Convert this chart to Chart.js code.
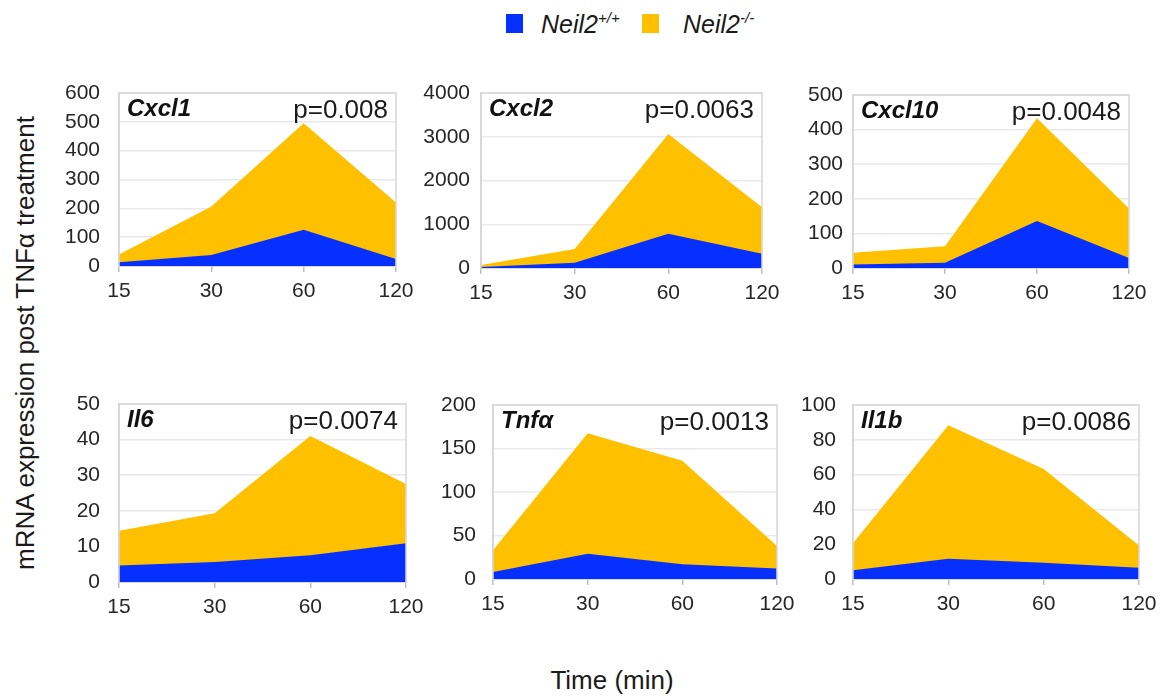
<!DOCTYPE html>
<html><head><meta charset="utf-8">
<script src="https://cdn.jsdelivr.net/npm/chart.js@4.4.1/dist/chart.umd.min.js"></script>
<style>
body{margin:0;background:#fff;width:1162px;height:696px;overflow:hidden;position:relative;font-family:"Liberation Sans",Arial,sans-serif;color:#1a1a1a;}
canvas{position:absolute;}
.sq{position:absolute;width:17px;height:19px;}
.lgt{position:absolute;font-style:italic;font-size:25px;line-height:25px;white-space:nowrap;}
.lgt sup{font-size:15px;position:relative;top:-2px;vertical-align:top;line-height:15px;}
#ytitle{position:absolute;left:25px;top:343px;transform:translate(-50%,-50%) rotate(-90deg);font-size:26px;white-space:nowrap;}
#xtitle{position:absolute;left:612px;top:680px;transform:translate(-50%,-50%);font-size:26px;white-space:nowrap;}
</style></head><body>
<div class="sq" style="left:506px;top:14px;background:#0530FF"></div>
<div class="lgt" style="left:541px;top:12px">Neil2<sup>+/+</sup></div>
<div class="sq" style="left:642px;top:14px;background:#FFC000"></div>
<div class="lgt" style="left:683px;top:12px">Neil2<sup>-/-</sup></div>
<div id="ytitle">mRNA expression post TNFα treatment</div>
<div id="xtitle">Time (min)</div>
<script>
// ---- data ----
const timePoints = ['15', '30', '60', '120'];
const genes = ['Cxcl1', 'Cxcl2', 'Cxcl10', 'Il6', 'Tnfα', 'Il1b'];
const pValues = ['p=0.008', 'p=0.0063', 'p=0.0048', 'p=0.0074', 'p=0.0013', 'p=0.0086'];
const yMax = [600, 4000, 500, 50, 200, 100];
const yStep = [100, 1000, 100, 10, 50, 20];
const seriesNames = ['Neil2+/+', 'Neil2-/-'];
const cxcl1WT = [13, 38, 126, 24];
const cxcl1KO = [40, 206, 495, 220];
const cxcl2WT = [23, 122, 785, 327];
const cxcl2KO = [70, 434, 3063, 1387];
const cxcl10WT = [10, 15, 136, 29];
const cxcl10KO = [44, 63, 433, 172];
const il6WT = [4.6, 5.6, 7.5, 10.9];
const il6KO = [14.4, 19.3, 41, 27.5];
const tnfaWT = [8, 29, 17, 12];
const tnfaKO = [33, 167.5, 136, 38];
const il1bWT = [5, 11.7, 9.4, 6.5];
const il1bKO = [20.5, 88.3, 63.2, 19.2];
const wtSeries = [cxcl1WT, cxcl2WT, cxcl10WT, il6WT, tnfaWT, il1bWT];
const koSeries = [cxcl1KO, cxcl2KO, cxcl10KO, il6KO, tnfaKO, il1bKO];

// ---- layout (chart areas in page px) ----
const panels = [
  {L:119, R:396, T:93, B:266, pad:19},
  {L:481, R:762, T:93, B:268, pad:11},
  {L:853, R:1129, T:95, B:268, pad:10},
  {L:119, R:406, T:404, B:582, pad:19},
  {L:493, R:777, T:405, B:579, pad:17},
  {L:853, R:1139, T:405, B:579, pad:17}
];
const W = 75, PR = 28, H = 44;
const FONT = '"Liberation Sans", Arial, sans-serif';

const decor = {
  id: 'decor',
  afterDatasetsDraw(chart, args, opts) {
    const {ctx, chartArea: a} = chart;
    ctx.save();
    ctx.strokeStyle = '#d6d6d6';
    ctx.lineWidth = 1.5;
    ctx.beginPath();
    ctx.moveTo(a.left, a.bottom); ctx.lineTo(a.left, a.top);
    ctx.lineTo(a.right, a.top); ctx.lineTo(a.right, a.bottom);
    ctx.stroke();
    ctx.fillStyle = '#111';
    ctx.textBaseline = 'alphabetic';
    ctx.font = 'italic bold 24px ' + FONT;
    ctx.textAlign = 'left';
    ctx.fillText(opts.gene, a.left + 8, a.top + 23);
    ctx.font = '26px ' + FONT;
    ctx.textAlign = 'right';
    ctx.fillStyle = '#1a1a1a';
    ctx.fillText(opts.p, a.right - 8, a.top + 25);
    ctx.restore();
  }
};

panels.forEach((p, i) => {
  const PT = p.pad + 16;
  const c = document.createElement('canvas');
  const cw = (p.R - p.L) + W + PR, ch = (p.B - p.T) + PT + H;
  c.width = cw; c.height = ch;
  c.style.left = (p.L - W) + 'px'; c.style.top = (p.T - PT) + 'px';
  c.style.width = cw + 'px'; c.style.height = ch + 'px';
  document.body.appendChild(c);
  new Chart(c, {
    type: 'line',
    data: {
      labels: timePoints,
      datasets: [
        {label: seriesNames[0], data: wtSeries[i], backgroundColor: '#0530FF', borderColor: 'rgba(0,0,0,0)', borderWidth: 0, fill: 'origin', pointRadius: 0, tension: 0},
        {label: seriesNames[1], data: koSeries[i], backgroundColor: '#FFC000', borderColor: 'rgba(0,0,0,0)', borderWidth: 0, fill: 'origin', pointRadius: 0, tension: 0}
      ]
    },
    options: {
      responsive: false, animation: false, devicePixelRatio: 1,
      layout: {padding: {top: PT, right: PR, left: 0, bottom: 0}},
      plugins: {legend: {display: false}, tooltip: {enabled: false}, decor: {gene: genes[i], p: pValues[i]}},
      scales: {
        x: {
          offset: false,
          grid: {drawOnChartArea: false, drawTicks: true, tickLength: 6, color: '#bfbfbf', lineWidth: 1.5},
          border: {color: '#bfbfbf', width: 1.5},
          ticks: {font: {family: FONT, size: 21}, color: '#262626', padding: 7, maxRotation: 0, autoSkip: false},
          afterFit: s => { s.height = H; }
        },
        y: {
          min: 0, max: yMax[i],
          grid: {drawTicks: false, color: '#e9e9e9', lineWidth: 1.5},
          border: {color: '#d6d6d6', width: 1.5},
          ticks: {stepSize: yStep[i], autoSkip: false, font: {family: FONT, size: 21}, color: '#262626', padding: p.pad,
                  callback: v => String(v)},
          afterFit: s => { s.width = W; }
        }
      }
    },
    plugins: [decor]
  });
});
</script>
</body></html>
